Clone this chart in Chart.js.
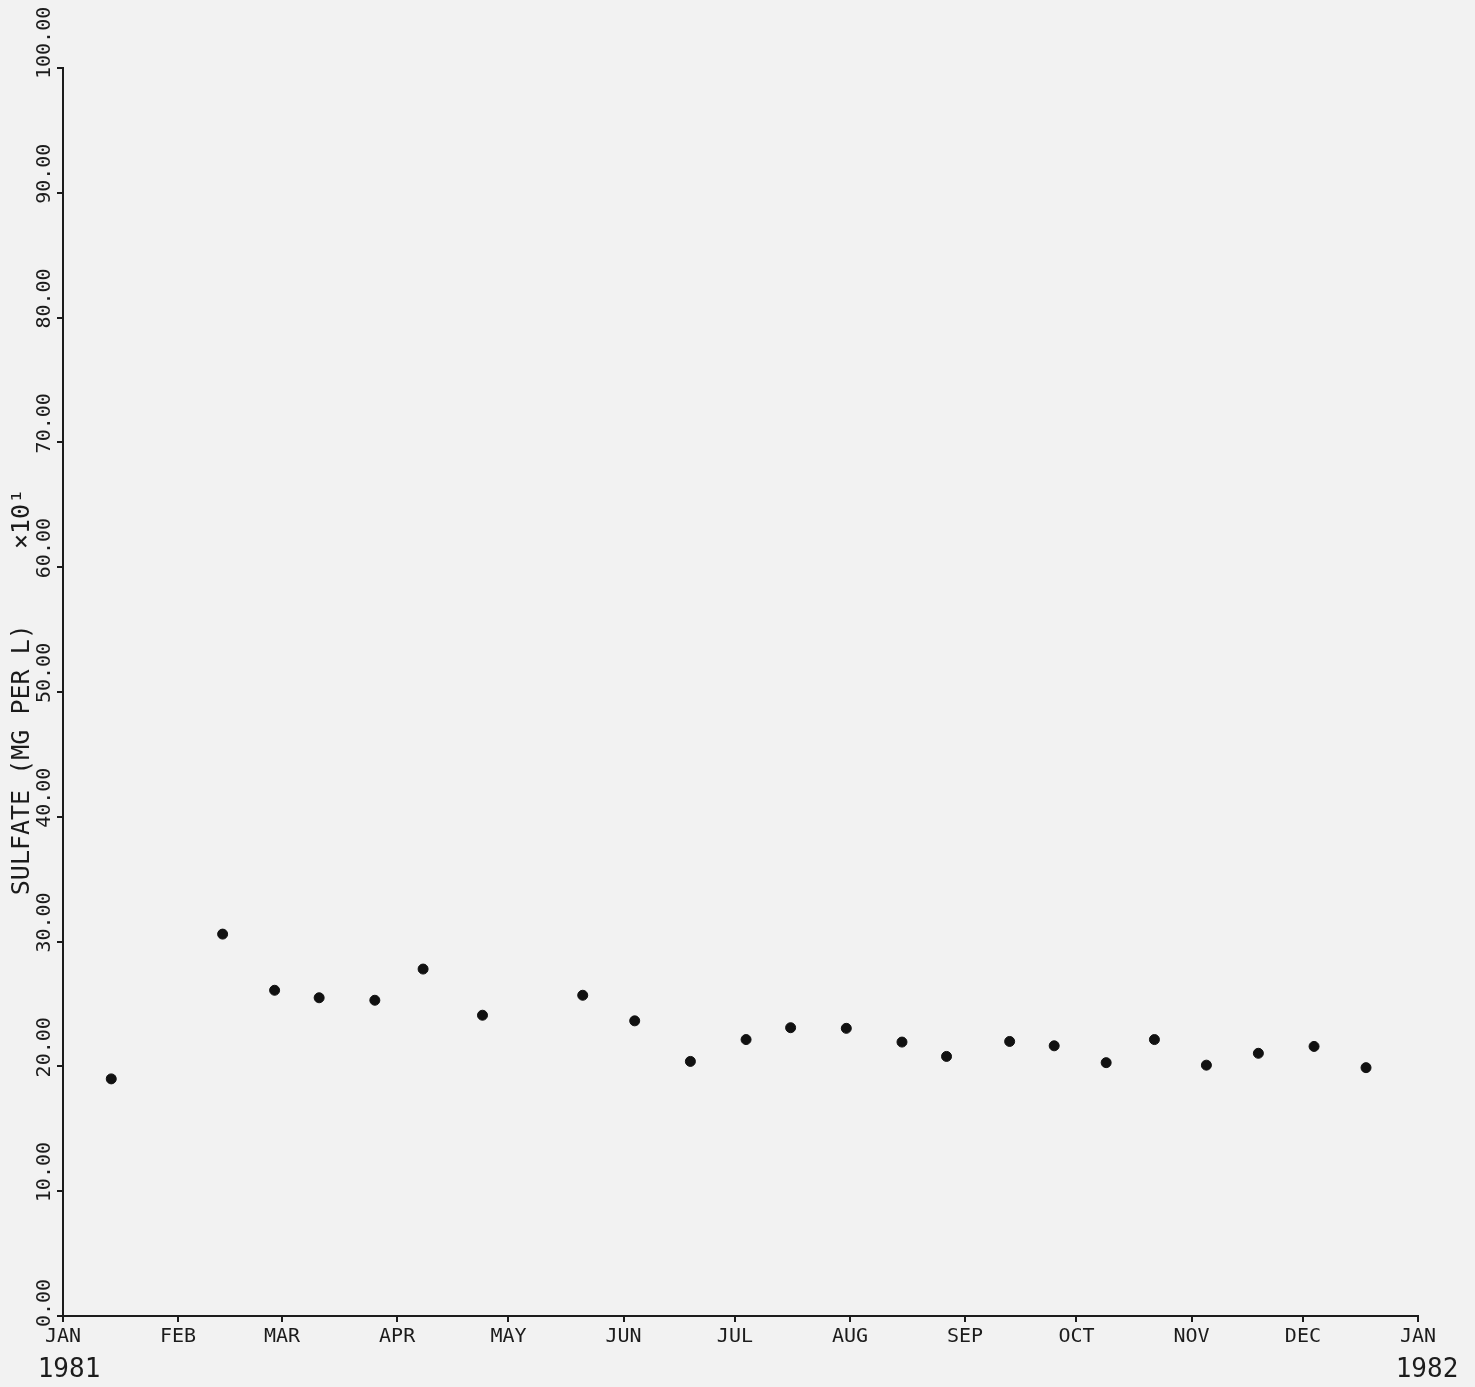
<!DOCTYPE html>
<html>
<head>
<meta charset="utf-8">
<script src="https://cdn.jsdelivr.net/npm/chart.js@4/dist/chart.umd.min.js"></script>
<style>
  html, body { margin: 0; padding: 0; background: #f2f2f2; }
  #wrap { width: 1475px; height: 1387px; }
</style>
</head>
<body>
<div id="wrap"><canvas id="myChart" width="1475" height="1387"></canvas></div>
<script>
// Sample dates (1981) and sulfate readings (mg per L, x10^1)
const sampleDates = ['1981-01-14', '1981-02-13', '1981-02-27', '1981-03-11', '1981-03-26',
  '1981-04-08', '1981-04-24', '1981-05-21', '1981-06-04', '1981-06-19', '1981-07-04',
  '1981-07-16', '1981-07-31', '1981-08-15', '1981-08-27', '1981-09-13', '1981-09-25',
  '1981-10-09', '1981-10-22', '1981-11-05', '1981-11-19', '1981-12-04', '1981-12-18'];
const sulfate = [19.0, 30.6, 26.1, 25.5, 25.3, 27.8, 24.1, 25.7, 23.65, 20.4, 22.15,
  23.1, 23.05, 21.95, 20.8, 22.0, 21.65, 20.3, 22.15, 20.1, 21.05, 21.6, 19.9];

// Axis ticks
const monthStarts = ['1981-01-01', '1981-02-01', '1981-03-01', '1981-04-01', '1981-05-01',
  '1981-06-01', '1981-07-01', '1981-08-01', '1981-09-01', '1981-10-01', '1981-11-01',
  '1981-12-01', '1982-01-01'];
const monthLabels = ['JAN', 'FEB', 'MAR', 'APR', 'MAY', 'JUN', 'JUL', 'AUG', 'SEP', 'OCT', 'NOV', 'DEC', 'JAN'];
const yTickValues = [0, 10, 20, 30, 40, 50, 60, 70, 80, 90, 100];
const yTickLabels = ['0.00', '10.00', '20.00', '30.00', '40.00', '50.00', '60.00', '70.00', '80.00', '90.00', '100.00'];
const yearLabels = ['1981', '1982'];

const MONO = '"DejaVu Sans Mono", "Liberation Mono", monospace';
const INK = '#1c1c1c';

// day number counted from 1 Jan 1981
function dayOf(s) {
  const [y, m, d] = s.split('-').map(Number);
  return (Date.UTC(y, m - 1, d) - Date.UTC(1981, 0, 1)) / 86400000;
}

const points = sampleDates.map((d, i) => ({ x: dayOf(d), y: sulfate[i] }));
const monthDays = monthStarts.map(dayOf);

// rotated y tick labels and year labels under the axis
const labelPlugin = {
  id: 'labelPlugin',
  afterDraw(chart) {
    const ctx = chart.ctx;
    const yScale = chart.scales.y;
    const xScale = chart.scales.x;
    ctx.save();
    ctx.fillStyle = INK;
    ctx.font = '20px ' + MONO;
    yTickValues.forEach((v, i) => {
      const py = yScale.getPixelForValue(v);
      ctx.save();
      ctx.translate(45, py + 11);
      ctx.rotate(-Math.PI / 2);
      ctx.textAlign = 'left';
      ctx.textBaseline = 'middle';
      ctx.fillText(yTickLabels[i], 0, 0);
      ctx.restore();
    });
    ctx.font = '26px ' + MONO;
    ctx.textAlign = 'center';
    ctx.textBaseline = 'middle';
    ctx.fillText(yearLabels[0], xScale.getPixelForValue(monthDays[0]) + 6, 1370);
    ctx.fillText(yearLabels[1], xScale.getPixelForValue(monthDays[12]) + 9, 1370);
    ctx.restore();
  }
};

new Chart('myChart', {
  type: 'scatter',
  data: {
    datasets: [{
      data: points,
      backgroundColor: '#111',
      borderColor: '#111',
      pointRadius: 5,
      pointHoverRadius: 5
    }]
  },
  options: {
    responsive: false,
    animation: false,
    layout: { padding: { top: 68, right: 57, left: 0, bottom: 0 } },
    plugins: {
      legend: { display: false },
      tooltip: { enabled: false }
    },
    scales: {
      x: {
        type: 'linear',
        min: 0,
        max: 365,
        afterFit: scale => { scale.height = 71; },
        afterBuildTicks: scale => {
          scale.ticks = monthDays.map(v => ({ value: v }));
        },
        grid: { drawOnChartArea: false, drawTicks: true, tickLength: 6, color: INK, lineWidth: 2 },
        border: { color: INK, width: 2 },
        ticks: {
          autoSkip: false,
          maxRotation: 0,
          padding: 3,
          color: INK,
          font: { family: MONO, size: 20 },
          callback: (v, i) => monthLabels[i]
        }
      },
      y: {
        min: 0,
        max: 100,
        afterFit: scale => { scale.width = 63; },
        afterBuildTicks: scale => {
          scale.ticks = yTickValues.map(v => ({ value: v }));
        },
        grid: { drawOnChartArea: false, drawTicks: true, tickLength: 6, color: INK, lineWidth: 2 },
        border: { color: INK, width: 2 },
        ticks: { display: false },
        title: {
          display: true,
          text: 'SULFATE (MG PER L)     \u00d710\u00b9',
          color: INK,
          font: { family: MONO, size: 25 },
          padding: { top: 7, bottom: 0 }
        }
      }
    }
  },
  plugins: [labelPlugin]
});
</script>
</body>
</html>
